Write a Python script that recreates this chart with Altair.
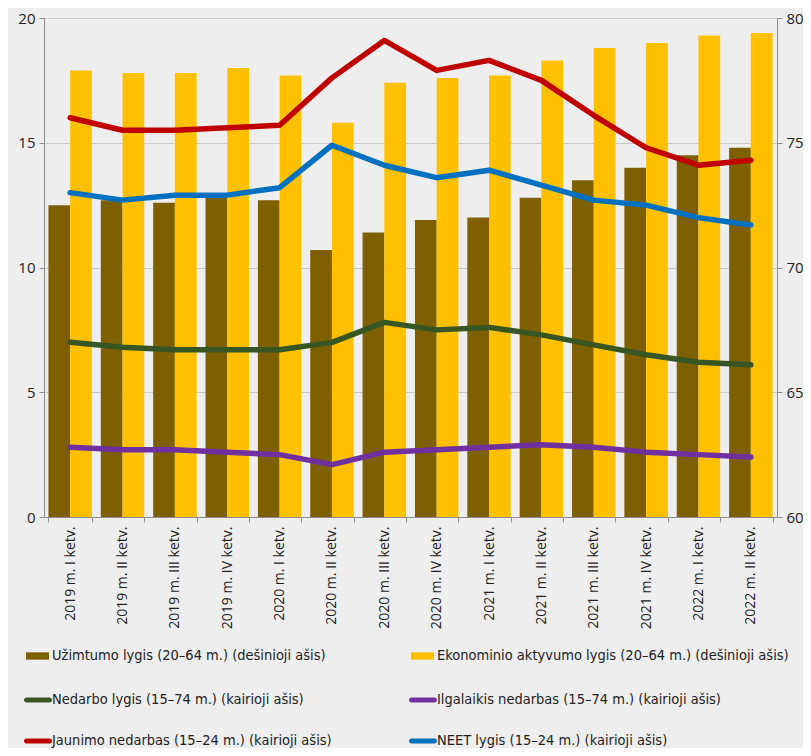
import altair as alt
import pandas as pd

cats = ["2019 m. I ketv.", "2019 m. II ketv.", "2019 m. III ketv.", "2019 m. IV ketv.",
        "2020 m. I ketv.", "2020 m. II ketv.", "2020 m. III ketv.", "2020 m. IV ketv.",
        "2021 m. I ketv.", "2021 m. II ketv.", "2021 m. III ketv.", "2021 m. IV ketv.",
        "2022 m. I ketv.", "2022 m. II ketv."]

uzimtumo = [72.5, 72.7, 72.6, 72.8, 72.7, 70.7, 71.4, 71.9, 72.0, 72.8, 73.5, 74.0, 74.5, 74.8]
aktyvumo = [77.9, 77.8, 77.8, 78.0, 77.7, 75.8, 77.4, 77.6, 77.7, 78.3, 78.8, 79.0, 79.3, 79.4]
nedarbo = [7.0, 6.8, 6.7, 6.7, 6.7, 7.0, 7.8, 7.5, 7.6, 7.3, 6.9, 6.5, 6.2, 6.1]
ilgalaikis = [2.8, 2.7, 2.7, 2.6, 2.5, 2.1, 2.6, 2.7, 2.8, 2.9, 2.8, 2.6, 2.5, 2.4]
jaunimo = [16.0, 15.5, 15.5, 15.6, 15.7, 17.6, 19.1, 17.9, 18.3, 17.5, 16.1, 14.8, 14.1, 14.3]
neet = [13.0, 12.7, 12.9, 12.9, 13.2, 14.9, 14.1, 13.6, 13.9, 13.3, 12.7, 12.5, 12.0, 11.7]

n_uz = "Užimtumo lygis (20–64 m.) (dešinioji ašis)"
n_ak = "Ekonominio aktyvumo lygis (20–64 m.) (dešinioji ašis)"
n_ne = "Nedarbo lygis (15–74 m.) (kairioji ašis)"
n_il = "Ilgalaikis nedarbas (15–74 m.) (kairioji ašis)"
n_ja = "Jaunimo nedarbas (15–24 m.) (kairioji ašis)"
n_nt = "NEET lygis (15–24 m.) (kairioji ašis)"

series = [
    (n_uz, uzimtumo, "#7f6000"),
    (n_ak, aktyvumo, "#ffc000"),
    (n_ne, nedarbo, "#375623"),
    (n_il, ilgalaikis, "#7030a0"),
    (n_ja, jaunimo, "#c00000"),
    (n_nt, neet, "#0070c0"),
]

rows = []
for name, vals, _ in series:
    for c, v in zip(cats, vals):
        rows.append({"cat": c, "series": name, "value": v})
df = pd.DataFrame(rows)

FONT_AX = "Segoe UI, Open Sans, DejaVu Sans, sans-serif"
FONT_LEG = "Liberation Sans Narrow, DejaVu Sans Condensed, Roboto Condensed, Liberation Sans, sans-serif"

x_enc = alt.X("cat:N", sort=cats,
              scale=alt.Scale(domain=cats, paddingInner=0.17, paddingOuter=0.085),
              axis=alt.Axis(title=None, labelAngle=270, labelFontSize=14, labelFont=FONT_AX,
                            labelColor="#222222", tickBand="extent", tickSize=5,
                            tickColor="#8c8c8c", domainColor="#8c8c8c", grid=False,
                            labelPadding=4, labelAlign="right", labelBaseline="middle"))

bar_path = "M-1,-0.32H1V0.32H-1Z"
line_path = "M-0.82,-0.18H0.82A0.18,0.18 0 0 1 0.82,0.18H-0.82A0.18,0.18 0 0 1 -0.82,-0.18Z"

# (legendX, legendY, symbol size, label offset)
legend_pos = {
    n_uz: (-18, 626.5, 529, 3),
    n_ak: (367, 626.5, 529, 3),
    n_ne: (-20, 668, 784, 0),
    n_il: (365, 668, 784, 0),
    n_ja: (-20, 709, 784, 0),
    n_nt: (365, 709, 784, 0),
}


def make_legend(name, color, path):
    lx, ly, sz, off = legend_pos[name]
    return alt.Legend(orient="none", legendX=lx, legendY=ly, title=None,
                      symbolType=path, symbolSize=sz, symbolFillColor=color,
                      symbolStrokeWidth=0, symbolOpacity=1, labelFont=FONT_LEG,
                      labelFontSize=14.5, labelColor="#222222", padding=0,
                      labelOffset=off, labelLimit=500)


axis_right = alt.Axis(orient="right", values=[60, 65, 70, 75, 80], title=None, grid=False,
                      labelFontSize=15, labelFont=FONT_AX, labelColor="#222222",
                      tickSize=5, tickColor="#8c8c8c", domainColor="#8c8c8c", labelPadding=4)
axis_left = alt.Axis(orient="left", values=[0, 5, 10, 15, 20], title=None, grid=True,
                     gridColor="#c8c8c8", labelFontSize=15, labelFont=FONT_AX,
                     labelColor="#222222", tickSize=5, tickColor="#8c8c8c",
                     domainColor="#8c8c8c", labelPadding=4)

layers = []
bar_names = [n_uz, n_ak]
for i, (name, vals, color) in enumerate(series[:2]):
    layers.append(
        alt.Chart(df).transform_filter(alt.datum.series == name).mark_bar().encode(
            x=x_enc,
            xOffset=alt.XOffset("series:N", scale=alt.Scale(domain=bar_names, paddingInner=0, paddingOuter=0)),
            y=alt.Y("value:Q", scale=alt.Scale(domain=[60, 80], zero=False, nice=False),
                    axis=axis_right if i == 0 else None),
            y2=alt.datum(60),
            color=alt.Color("series:N", scale=alt.Scale(domain=[name], range=[color]),
                            legend=make_legend(name, color, bar_path)),
        )
    )

for i, (name, vals, color) in enumerate(series[2:]):
    layers.append(
        alt.Chart(df).transform_filter(alt.datum.series == name)
        .mark_line(strokeWidth=5.5, strokeCap="round", strokeJoin="round").encode(
            x=x_enc,
            y=alt.Y("value:Q", scale=alt.Scale(domain=[0, 20], nice=False),
                    axis=axis_left if i == 0 else None),
            color=alt.Color("series:N", scale=alt.Scale(domain=[name], range=[color]),
                            legend=make_legend(name, color, line_path)),
        )
    )

chart = alt.layer(*layers).resolve_scale(
    y="independent", color="independent"
).properties(
    width=733, height=499, background="#eeeeee",
    autosize=alt.AutoSizeParams(type="none"),
    padding={"left": 36, "top": 10, "right": 26, "bottom": 231},
).configure_view(stroke=None)

chart.save("out.html", embed_options={"renderer": "svg", "actions": False})
